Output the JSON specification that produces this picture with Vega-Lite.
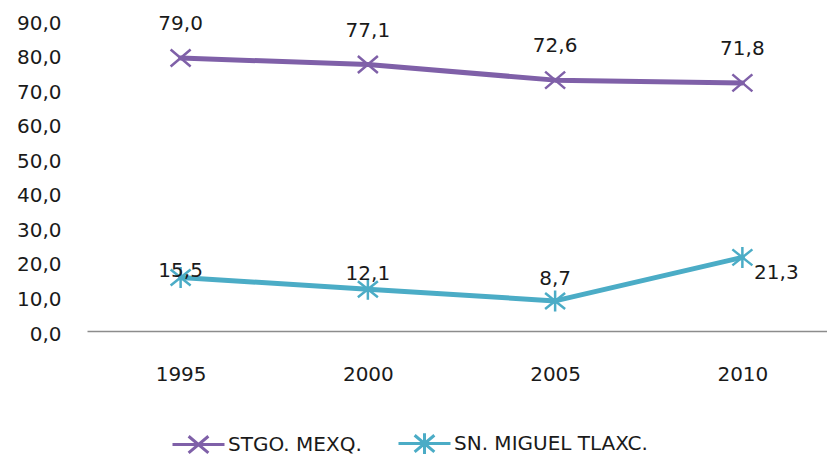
{
  "$schema": "https://vega.github.io/schema/vega-lite/v6.json",
  "autosize": {"type": "none"},
  "width": 749,
  "height": 311,
  "padding": {"left": 87, "top": 20, "right": 0, "bottom": 125},
  "background": "white",
  "config": {
    "locale": {"number": {"decimal": ",", "thousands": ".", "grouping": [3], "currency": ["", ""]}},
    "view": {"stroke": null},
    "font": "DejaVu Sans"
  },
  "data": {
    "values": [
      {"year": "1995", "series": "STGO. MEXQ.", "value": 79.0},
      {"year": "2000", "series": "STGO. MEXQ.", "value": 77.1},
      {"year": "2005", "series": "STGO. MEXQ.", "value": 72.6},
      {"year": "2010", "series": "STGO. MEXQ.", "value": 71.8},
      {"year": "1995", "series": "SN. MIGUEL TLAXC.", "value": 15.5},
      {"year": "2000", "series": "SN. MIGUEL TLAXC.", "value": 12.1},
      {"year": "2005", "series": "SN. MIGUEL TLAXC.", "value": 8.7},
      {"year": "2010", "series": "SN. MIGUEL TLAXC.", "value": 21.3}
    ]
  },
  "encoding": {
    "x": {
      "field": "year", "type": "ordinal",
      "scale": {"type": "point", "padding": 0.5},
      "axis": {
        "title": null, "labelAngle": 0, "ticks": false, "grid": false,
        "domain": true, "domainColor": "#8c8c8c", "domainWidth": 1.5,
        "labelFont": "DejaVu Sans", "labelFontSize": 20, "labelColor": "#1a1a1a",
        "labelPadding": 33
      }
    },
    "y": {
      "field": "value", "type": "quantitative",
      "scale": {"domain": [0, 90], "nice": false, "zero": true},
      "axis": {
        "title": null, "values": [0, 10, 20, 30, 40, 50, 60, 70, 80, 90],
        "format": ".1f", "ticks": false, "grid": false, "domain": false,
        "labelFont": "DejaVu Sans", "labelFontSize": 20, "labelColor": "#1a1a1a",
        "labelPadding": 26, "labelOffset": 3
      }
    }
  },
  "layer": [
    {
      "mark": {"type": "line", "strokeWidth": 5, "strokeCap": "round", "strokeJoin": "round"},
      "encoding": {
        "color": {
          "field": "series", "type": "nominal",
          "scale": {"domain": ["STGO. MEXQ.", "SN. MIGUEL TLAXC."], "range": ["#7f60a8", "#4bacc6"]},
          "legend": {
            "title": null, "orient": "none", "direction": "horizontal",
            "legendX": 84, "legendY": 396,
            "symbolSize": 2704, "symbolStrokeWidth": 3,
            "symbolType": "M-1,0H1",
            "labelFont": "DejaVu Sans", "labelFontSize": 20, "labelColor": "#1a1a1a",
            "labelLimit": 500,
            "labelOffset": 2, "columnPadding": 30,
            "encode": {
              "symbols": {
                "update": {
                  "shape": {"signal": "datum.value == 'STGO. MEXQ.' ? 'M-1,0H1M-0.38,-0.32L0.38,0.32M-0.38,0.32L0.38,-0.32' : 'M-1,0H1M-0.38,-0.32L0.38,0.32M-0.38,0.32L0.38,-0.32M0,-0.4V0.4'"},
                  "strokeWidth": {"value": 3}
                }
              }
            }
          }
        },
        "order": {"field": "year"}
      }
    },
    {
      "transform": [{"filter": "datum.series == 'STGO. MEXQ.'"}],
      "mark": {"type": "point", "filled": false, "strokeWidth": 2.5, "opacity": 1, "size": 400, "color": "#7f60a8",
               "shape": "M-1,-0.85L1,0.85M-1,0.85L1,-0.85"}
    },
    {
      "transform": [{"filter": "datum.series == 'SN. MIGUEL TLAXC.'"}],
      "mark": {"type": "point", "filled": false, "strokeWidth": 2.5, "opacity": 1, "size": 400, "color": "#4bacc6",
               "shape": "M-1,-0.8L1,0.8M-1,0.8L1,-0.8M0,-1.05V1.05"}
    },
    {
      "transform": [{"filter": "datum.series == 'STGO. MEXQ.'"}],
      "mark": {"type": "text", "dy": -34, "baseline": "middle", "align": "center", "fontSize": 20, "font": "DejaVu Sans", "color": "#1a1a1a"},
      "encoding": {"text": {"field": "value", "type": "quantitative", "format": ".1f"}}
    },
    {
      "transform": [{"filter": "datum.series == 'SN. MIGUEL TLAXC.' && datum.year == '1995'"}],
      "mark": {"type": "text", "dy": -6, "baseline": "middle", "align": "center", "fontSize": 20, "font": "DejaVu Sans", "color": "#1a1a1a"},
      "encoding": {"text": {"field": "value", "type": "quantitative", "format": ".1f"}}
    },
    {
      "transform": [{"filter": "datum.series == 'SN. MIGUEL TLAXC.' && datum.year == '2000'"}],
      "mark": {"type": "text", "dy": -15, "baseline": "middle", "align": "center", "fontSize": 20, "font": "DejaVu Sans", "color": "#1a1a1a"},
      "encoding": {"text": {"field": "value", "type": "quantitative", "format": ".1f"}}
    },
    {
      "transform": [{"filter": "datum.series == 'SN. MIGUEL TLAXC.' && datum.year == '2005'"}],
      "mark": {"type": "text", "dy": -22, "baseline": "middle", "align": "center", "fontSize": 20, "font": "DejaVu Sans", "color": "#1a1a1a"},
      "encoding": {"text": {"field": "value", "type": "quantitative", "format": ".1f"}}
    },
    {
      "transform": [{"filter": "datum.series == 'SN. MIGUEL TLAXC.' && datum.year == '2010'"}],
      "mark": {"type": "text", "dx": 34, "dy": 16, "baseline": "middle", "align": "center", "fontSize": 20, "font": "DejaVu Sans", "color": "#1a1a1a"},
      "encoding": {"text": {"field": "value", "type": "quantitative", "format": ".1f"}}
    }
  ]
}
